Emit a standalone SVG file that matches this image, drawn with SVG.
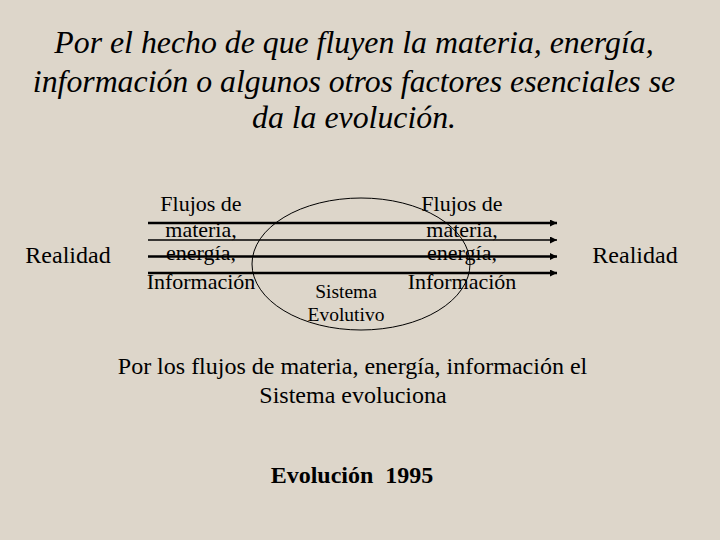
<svg xmlns="http://www.w3.org/2000/svg" width="720" height="540" viewBox="0 0 720 540">
<style>
text{font-family:'Liberation Serif','DejaVu Serif',serif;fill:#000;text-anchor:middle}
.ti{font-style:italic;font-size:31.8px}
.f{font-size:22px}
.c{font-size:24px}
.s{font-size:19.5px}
.flow{stroke:#000;fill:none}
</style>
<defs>
<marker id="ah" viewBox="0 0 10 10" refX="10" refY="5" markerWidth="8" markerHeight="7" markerUnits="userSpaceOnUse" orient="auto">
<path d="M0,0 L10,5 L0,10 z" fill="#000"/>
</marker>
</defs>
<rect width="720" height="540" fill="#ddd6ca"/>
<g id="title">
<text class="ti" x="354" y="53">Por el hecho de que fluyen la materia, energía,</text>
<text class="ti" x="354" y="92">información o algunos otros factores esenciales se</text>
<text class="ti" x="354" y="128">da la evolución.</text>
</g>
<g id="sistema">
<ellipse cx="361" cy="264" rx="109" ry="66" fill="none" stroke="#000" stroke-width="1"/>
<text class="s" x="346" y="298">Sistema</text>
<text class="s" x="346" y="321">Evolutivo</text>
</g>
<g id="connectors">
<line class="flow" x1="148" y1="223" x2="557" y2="223" stroke-width="2.5" marker-end="url(#ah)"/>
<line class="flow" x1="148" y1="240" x2="557" y2="240" stroke-width="1.5" marker-end="url(#ah)"/>
<line class="flow" x1="148" y1="256.5" x2="557" y2="256.5" stroke-width="2.5" marker-end="url(#ah)"/>
<line class="flow" x1="148" y1="273" x2="557" y2="273" stroke-width="2.5" marker-end="url(#ah)"/>
</g>
<g id="realidad-left">
<text x="68" y="263" font-size="24">Realidad</text>
</g>
<g id="realidad-right">
<text x="635" y="263" font-size="24">Realidad</text>
</g>
<g id="flujos-left">
<text class="f" x="201" y="211">Flujos de</text>
<text class="f" x="201" y="237">materia,</text>
<text class="f" x="201" y="260">energía,</text>
<text class="f" x="201" y="289">Información</text>
</g>
<g id="flujos-right">
<text class="f" x="462" y="211">Flujos de</text>
<text class="f" x="462" y="237">materia,</text>
<text class="f" x="462" y="260">energía,</text>
<text class="f" x="462" y="289">Información</text>
</g>
<g id="caption">
<text class="c" x="352.5" y="374">Por los flujos de materia, energía, información el</text>
<text class="c" x="353" y="403">Sistema evoluciona</text>
</g>
<g id="footer">
<text class="c" x="352" y="483" font-weight="bold" xml:space="preserve">Evolución  1995</text>
</g>
</svg>
